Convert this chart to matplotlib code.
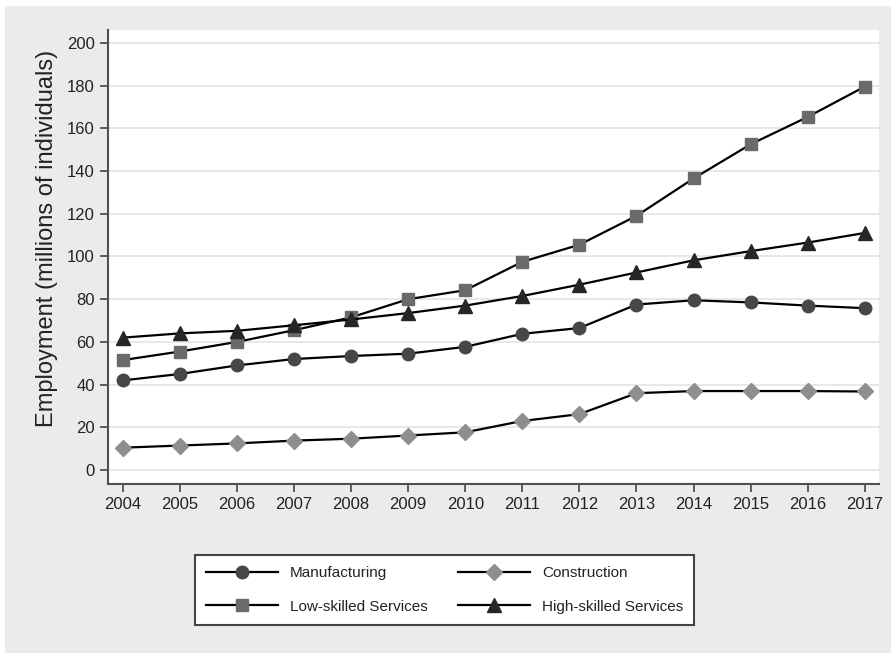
import numpy as np
import matplotlib
matplotlib.use("Agg")
import matplotlib.pyplot as plt
from matplotlib.patches import Rectangle

plt.rcParams["font.family"] = ["Liberation Sans", "DejaVu Sans"]

YEARS = np.arange(2004, 2018)
MANUFACTURING = [42, 45, 49, 52, 53.4, 54.5, 57.7, 63.8, 66.5, 77.5, 79.5, 78.5, 77, 75.8]
CONSTRUCTION = [10.5, 11.5, 12.5, 13.8, 14.7, 16.2, 17.7, 23, 26.2, 36, 37, 37, 37, 36.8]
LOW_SKILLED = [51.5, 55.5, 60, 65.5, 71.5, 80, 84.2, 97.5, 105.5, 119, 136.5, 152.5, 165.3, 179.5]
HIGH_SKILLED = [62, 64, 65.2, 67.8, 70.5, 73.5, 77, 81.5, 86.8, 92.5, 98.2, 102.5, 106.5, 111]

Y_TICKS = np.arange(0, 201, 20)

SERIES = [
    ("Manufacturing", MANUFACTURING, "o", "#474747", 9),
    ("Construction", CONSTRUCTION, "D", "#8e8e8e", 8.5),
    ("Low-skilled Services", LOW_SKILLED, "s", "#6a6a6a", 8),
    ("High-skilled Services", HIGH_SKILLED, "^", "#262626", 9.5),
]

BG = "#ebebeb"
AXIS_COLOR = "#505050"

fig = plt.figure(figsize=(8.91, 6.53), dpi=100, facecolor=BG)
# thin white strips at top and left edge
fig.patches.append(Rectangle((0, 0), 5 / 891, 1, transform=fig.transFigure,
                             facecolor="white", edgecolor="none"))
fig.patches.append(Rectangle((0, 1 - 6 / 653), 1, 6 / 653, transform=fig.transFigure,
                             facecolor="white", edgecolor="none"))

ax = fig.add_axes([108 / 891, 1 - 484 / 653, (879 - 108) / 891, (484 - 30) / 653])
ax.set_facecolor("white")

lines = {}
for name, vals, marker, color, ms in SERIES:
    lines[name], = ax.plot(YEARS, vals, color="black", lw=1.6, marker=marker, markersize=ms,
                           markerfacecolor=color, markeredgecolor=color, label=name, zorder=3)

ax.set_xlim(2003.74, 2017.25)
ax.set_ylim(-6.5, 206)
ax.set_xticks(YEARS)
ax.set_yticks(Y_TICKS)
ax.tick_params(axis="both", labelsize=12, colors=AXIS_COLOR, length=6, width=1.3,
               labelcolor="#222222", direction="out")
ax.grid(axis="y", color="#e4e4e4", lw=1.2, zorder=0)
ax.set_axisbelow(True)

for side in ["top", "right"]:
    ax.spines[side].set_visible(False)
for side in ["left", "bottom"]:
    ax.spines[side].set_color(AXIS_COLOR)
    ax.spines[side].set_linewidth(1.5)

ax.set_ylabel("Employment (millions of individuals)", fontsize=17, color="#222222")
ax.yaxis.set_label_coords(58 / 891, 1 - 238 / 653, transform=fig.transFigure)

# legend rows: Manufacturing / Construction, then Low / High (filled column-wise)
order = ["Manufacturing", "Low-skilled Services", "Construction", "High-skilled Services"]
leg = fig.legend([lines[n] for n in order], order, loc="center",
                 bbox_to_anchor=(0.499, 0.0965), ncol=2, fontsize=11,
                 handlelength=4.7, handletextpad=0.8, columnspacing=1.95,
                 labelspacing=1.25, borderpad=0.75, fancybox=False, framealpha=1)
leg.get_frame().set_edgecolor("#444444")
leg.get_frame().set_linewidth(1.5)
for t in leg.get_texts():
    t.set_color("#222222")

fig.savefig("out.png", dpi=100, facecolor=fig.get_facecolor())
